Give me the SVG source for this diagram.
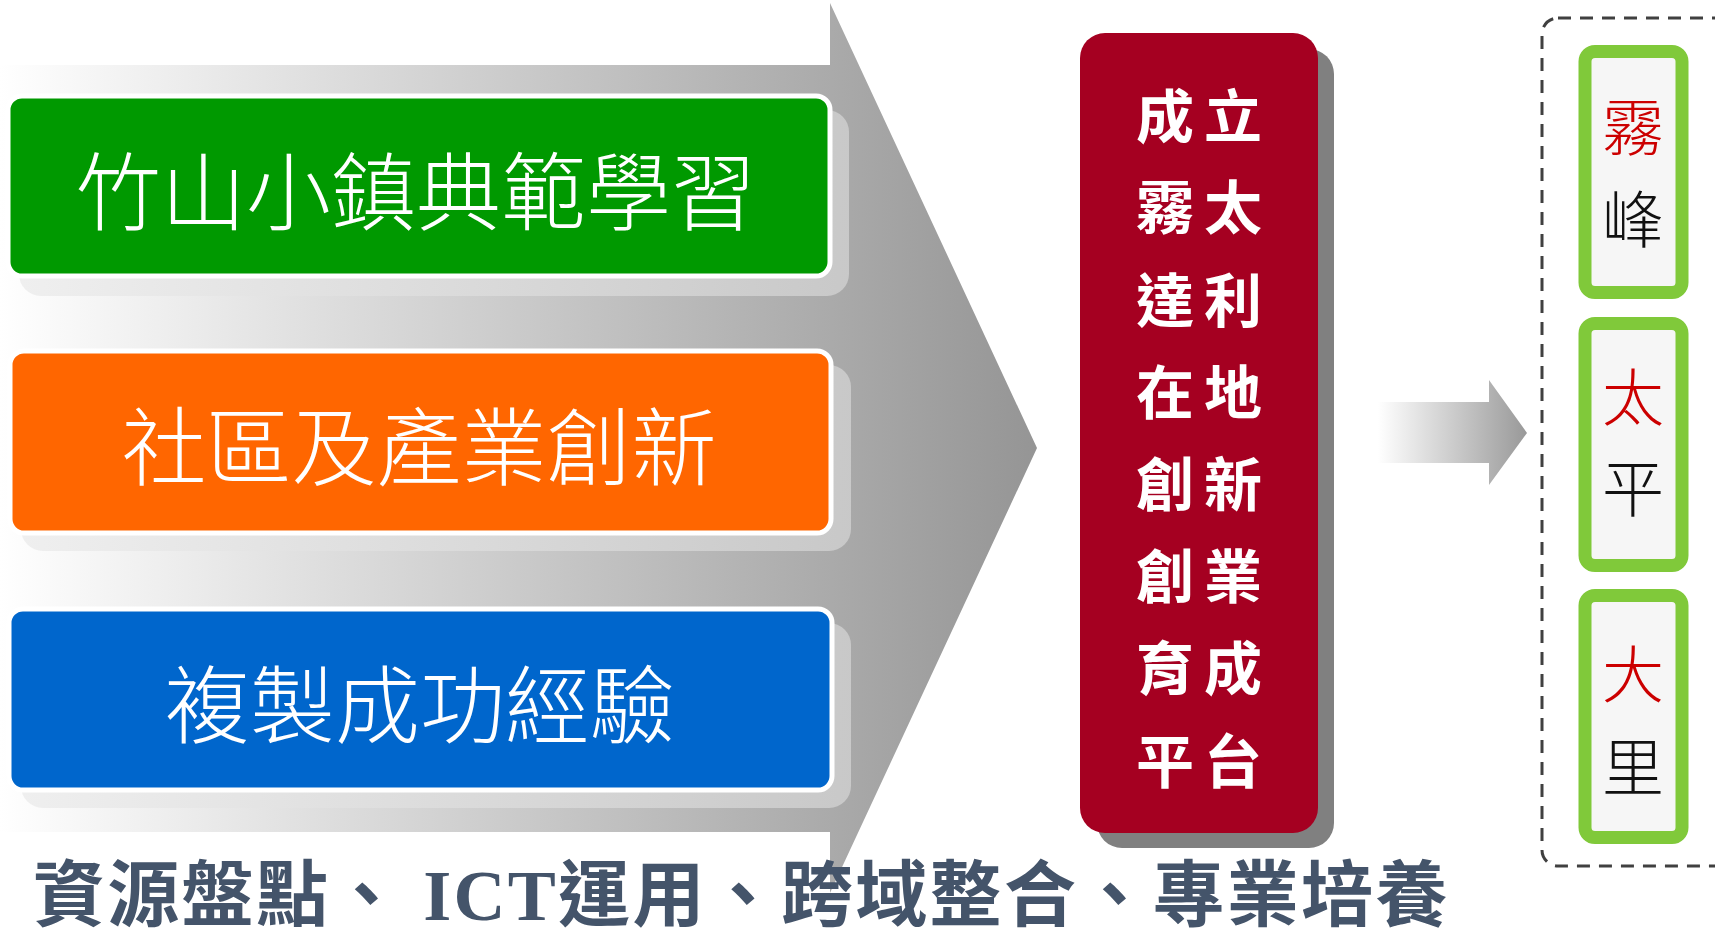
<svg xmlns="http://www.w3.org/2000/svg" width="1715" height="929" viewBox="0 0 1715 929">
<defs>
<linearGradient id="bigG" gradientUnits="userSpaceOnUse" x1="0" y1="0" x2="1037" y2="0">
<stop offset="0" stop-color="#ffffff"/><stop offset="1" stop-color="#959595"/>
</linearGradient>
<linearGradient id="shG" gradientUnits="userSpaceOnUse" x1="0" y1="0" x2="860" y2="0">
<stop offset="0" stop-color="#f0f0f0"/><stop offset="1" stop-color="#c8c8c8"/>
</linearGradient>
<linearGradient id="smG" gradientUnits="userSpaceOnUse" x1="1378" y1="0" x2="1527" y2="0">
<stop offset="0" stop-color="#ffffff"/><stop offset="1" stop-color="#999999"/>
</linearGradient>
<style>
.wt{font-family:"Noto Sans CJK TC","Noto Sans CJK SC",sans-serif;font-weight:300;font-size:85px;fill:#ffffff;text-anchor:middle}
.rt{font-family:"Noto Sans CJK TC",sans-serif;font-weight:700;font-size:58px;fill:#ffffff;text-anchor:middle}
.gt{font-family:"Noto Sans CJK TC",sans-serif;font-weight:300;font-size:62px;text-anchor:middle}
.red{fill:#cc0000}
.blk{fill:#111111}
.shadow{fill:url(#shG)}
.box{stroke:#ffffff;stroke-width:5}
.gbox{fill:#f6f6f6;stroke:#80c93a;stroke-width:13}
</style>
</defs>
<g id="big-arrow">
<polygon points="0,65 830,65 830,3 1037,448 830,893 830,832 0,832" fill="url(#bigG)"/>
</g>
<g id="node-green">
<rect x="19" y="110" width="830" height="186" rx="22" class="shadow"/>
<rect x="8" y="96" width="822" height="180" rx="14" fill="#009900" class="box"/>
<text x="416" y="224" class="wt">竹山小鎮典範學習</text>
</g>
<g id="node-orange">
<rect x="21" y="365" width="830" height="186" rx="22" class="shadow"/>
<rect x="10" y="351" width="821" height="182" rx="14" fill="#ff6600" class="box"/>
<text x="419" y="479" class="wt">社區及產業創新</text>
</g>
<g id="node-blue">
<rect x="21" y="623" width="830" height="185" rx="22" class="shadow"/>
<rect x="9" y="609" width="823" height="181" rx="14" fill="#0066cc" class="box"/>
<text x="420" y="737" class="wt">複製成功經驗</text>
</g>
<g id="node-platform">
<rect x="1097" y="49" width="237" height="799" rx="25" fill="#808080"/>
<rect x="1080" y="33" width="238" height="800" rx="25" fill="#a50021"/>
<text class="rt"><tspan x="1165" y="138">成</tspan><tspan x="1233" y="138">立</tspan></text>
<text class="rt"><tspan x="1165" y="229">霧</tspan><tspan x="1233" y="229">太</tspan></text>
<text class="rt"><tspan x="1165" y="322">達</tspan><tspan x="1233" y="322">利</tspan></text>
<text class="rt"><tspan x="1165" y="414">在</tspan><tspan x="1233" y="414">地</tspan></text>
<text class="rt"><tspan x="1165" y="506">創</tspan><tspan x="1233" y="506">新</tspan></text>
<text class="rt"><tspan x="1165" y="598">創</tspan><tspan x="1233" y="598">業</tspan></text>
<text class="rt"><tspan x="1165" y="690">育</tspan><tspan x="1233" y="690">成</tspan></text>
<text class="rt"><tspan x="1165" y="783">平</tspan><tspan x="1233" y="783">台</tspan></text>
</g>
<g id="connectors">
<polygon points="1378,402 1489,402 1489,380 1527,433 1489,485 1489,463 1378,463" fill="url(#smG)"/>
</g>
<g id="group-towns">
<rect x="1542" y="18" width="220" height="848" rx="16" fill="none" stroke="#404040" stroke-width="3" stroke-dasharray="13 9"/>
</g>
<g id="node-wufeng">
<rect x="1585" y="51.5" width="97" height="241" rx="10" class="gbox"/>
<text x="1633" y="151" class="gt red">霧</text>
<text x="1633" y="243" class="gt blk">峰</text>
</g>
<g id="node-taiping">
<rect x="1585" y="323.5" width="97" height="242" rx="10" class="gbox"/>
<text x="1633" y="421" class="gt red">太</text>
<text x="1633" y="512" class="gt blk">平</text>
</g>
<g id="node-dali">
<rect x="1585" y="595.5" width="97" height="242" rx="10" class="gbox"/>
<text x="1633" y="698" class="gt red">大</text>
<text x="1633" y="791" class="gt blk">里</text>
</g>
<g id="caption">
<text x="33" y="920" font-family="'Noto Sans CJK TC',sans-serif" font-weight="700" font-size="72" fill="#44546a" letter-spacing="2.3">資源盤點、 <tspan font-family="'Liberation Serif',serif" font-weight="700">ICT</tspan>運用、跨域整合、專業培養</text>
</g>
</svg>
